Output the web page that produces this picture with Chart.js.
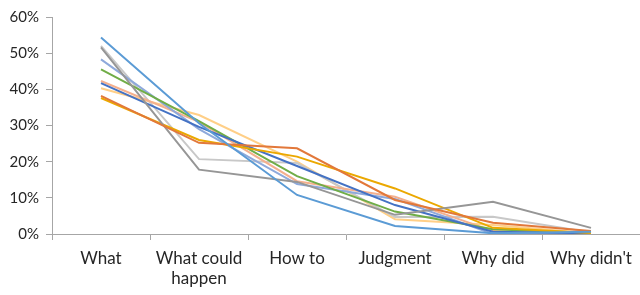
<!DOCTYPE html>
<html>
<head>
<meta charset="utf-8">
<script src="https://cdn.jsdelivr.net/npm/chart.js@4/dist/chart.umd.min.js"></script>
<style>
html,body{margin:0;padding:0;background:#fff;}
#wrap{width:640px;height:295px;position:relative;}
</style>
</head>
<body>
<div id="wrap"><canvas id="c"></canvas></div>
<script>
const categories = ["What", ["What could", "happen"], "How to", "Judgment", "Why did", "Why didn't"];
const yTicks = [0, 10, 20, 30, 40, 50, 60];

const sBlue       = [54.3, 30.6, 10.8, 2.2, 0.2, 0.6];
const sOrange     = [38.2, 25.2, 23.7, 9.4, 3.1, 0.8];
const sGray       = [51.6, 17.8, 14.4, 5.3, 8.9, 1.7];
const sGold       = [37.6, 26.0, 21.4, 12.6, 1.7, 0.3];
const sDarkBlue   = [41.7, 29.6, 18.8, 8.0, 0.6, 0.2];
const sGreen      = [45.5, 31.2, 16.0, 6.2, 1.3, 0.3];
const sLightBlue  = [48.3, 29.0, 13.8, 9.7, 0.0, 0.1];
const sSalmon     = [42.3, 31.0, 14.6, 10.3, 0.8, 0.2];
const sLightGray  = [52.0, 20.7, 19.6, 4.7, 4.8, 0.4];
const sLightGold  = [40.3, 32.9, 20.0, 4.1, 2.5, 0.2];

const seriesList = [
  {label: "Series 1", data: sBlue, color: "#5B9BD5"},
  {label: "Series 2", data: sOrange, color: "#E2783A"},
  {label: "Series 3", data: sGray, color: "#969696"},
  {label: "Series 4", data: sGold, color: "#EBA800"},
  {label: "Series 5", data: sDarkBlue, color: "#4472C4"},
  {label: "Series 6", data: sGreen, color: "#70AD47"},
  {label: "Series 7", data: sLightBlue, color: "#8EA9DB"},
  {label: "Series 8", data: sSalmon, color: "#F4B08E"},
  {label: "Series 9", data: sLightGray, color: "#C8C8C8"},
  {label: "Series 10", data: sLightGold, color: "#FFCF87"}
];

const axisColor = "#A6A6A6";
const textColor = "#262626";

new Chart(document.getElementById("c"), {
  type: "line",
  data: {
    labels: categories,
    datasets: seriesList.map(s => ({
      label: s.label,
      data: s.data,
      borderColor: s.color,
      backgroundColor: s.color,
      borderWidth: 2,
      pointRadius: 0,
      tension: 0,
      fill: false
    }))
  },
  options: {
    responsive: true,
    maintainAspectRatio: false,
    animation: false,
    layout: {padding: {top: 17, right: 0, left: 0, bottom: 0}},
    plugins: {legend: {display: false}, tooltip: {enabled: false}},
    scales: {
      x: {
        offset: true,
        grid: {offset: true, drawOnChartArea: false, drawTicks: true, tickLength: 6, color: axisColor},
        border: {color: axisColor, width: 1},
        ticks: {color: textColor, font: {family: "Lato", size: 17}, padding: 8, maxRotation: 0, autoSkip: false},
        afterFit: s => { s.height = 61; }
      },
      y: {
        min: 0, max: 60,
        afterBuildTicks: s => { s.ticks = yTicks.map(v => ({value: v})); },
        grid: {drawOnChartArea: false, drawTicks: true, tickLength: 6, color: axisColor},
        border: {color: axisColor, width: 1},
        ticks: {color: textColor, font: {family: "Lato", size: 15}, padding: 7, callback: v => v + "%"},
        afterFit: s => { s.width = 52; }
      }
    }
  }
});
</script>
</body>
</html>
